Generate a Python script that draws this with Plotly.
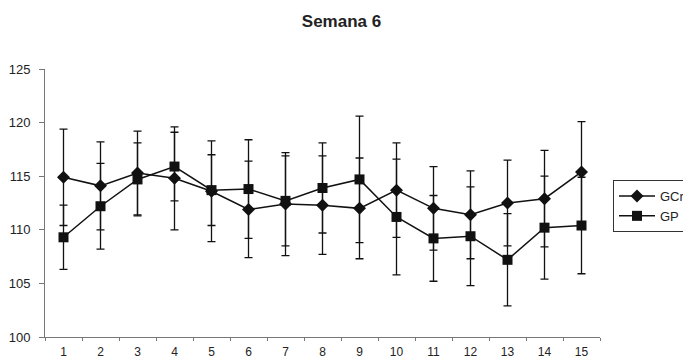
import plotly.graph_objects as go

weeks = [str(i) for i in range(1, 16)]
gcr = [114.9, 114.1, 115.3, 114.8, 113.6, 111.9, 112.4, 112.3, 112.0, 113.7, 112.0, 111.4, 112.5, 112.9, 115.4]
gcr_err = [4.5, 4.1, 3.9, 4.8, 4.7, 4.5, 4.8, 4.6, 4.7, 4.4, 3.9, 4.1, 4.0, 4.5, 4.7]
gp = [109.3, 112.2, 114.7, 115.9, 113.7, 113.8, 112.7, 113.9, 114.7, 111.2, 109.2, 109.4, 107.2, 110.2, 110.4]
gp_err = [3.0, 4.0, 3.4, 3.2, 3.3, 4.6, 4.2, 4.2, 5.9, 5.4, 4.0, 4.6, 4.3, 4.8, 4.5]
y_ticks = [100, 105, 110, 115, 120, 125]

FONT = "Liberation Sans, Arial, sans-serif"

fig = go.Figure()
fig.add_trace(go.Scatter(
    x=weeks, y=gcr, name="GCr", mode="lines+markers",
    line=dict(color="#111111", width=1.5),
    marker=dict(symbol="diamond", size=10, color="#111111"),
    error_y=dict(type="data", array=gcr_err, visible=True, color="#111111", thickness=1.3, width=4),
))
fig.add_trace(go.Scatter(
    x=weeks, y=gp, name="GP", mode="lines+markers",
    line=dict(color="#111111", width=1.5),
    marker=dict(symbol="square", size=10, color="#111111"),
    error_y=dict(type="data", array=gp_err, visible=True, color="#111111", thickness=1.3, width=4),
))

fig.update_layout(
    width=683, height=361,
    margin=dict(l=45, r=83, t=69, b=24, autoexpand=False),
    paper_bgcolor="white", plot_bgcolor="white",
    font=dict(family=FONT, size=13, color="#222222"),
    title=dict(text="<b>Semana 6</b>", font=dict(size=17, family=FONT, color="#222222"),
               x=0.5, xanchor="center", xref="container",
               y=1 - 21.5 / 361, yanchor="middle", yref="container", automargin=False),
    showlegend=True,
    legend=dict(x=(613 - 45) / 555, xanchor="left", y=(337 - 180) / 268, yanchor="top",
                bordercolor="#333333", borderwidth=1, bgcolor="white",
                font=dict(size=13, family=FONT, color="#222222"),
                tracegroupgap=0, itemwidth=36),
)
fig.update_xaxes(
    type="category", range=[-0.5, 14.5], tickson="boundaries", automargin=False,
    showline=True, linecolor="#777777", linewidth=1,
    ticks="outside", ticklen=3, tickcolor="#777777",
    showgrid=False, zeroline=False,
    tickfont=dict(size=12, family=FONT, color="#222222"),
    ticklabelstandoff=4,
)
fig.update_yaxes(
    range=[100, 125], tickvals=y_ticks, automargin=False,
    showline=True, linecolor="#777777", linewidth=1,
    ticks="outside", ticklen=5, tickcolor="#777777",
    showgrid=False, zeroline=False,
    tickfont=dict(size=13, family=FONT, color="#222222"),
    ticklabelstandoff=6,
)

fig.write_html("out.html", config={"displayModeBar": False},
               post_script="document.body.style.margin='0';")
